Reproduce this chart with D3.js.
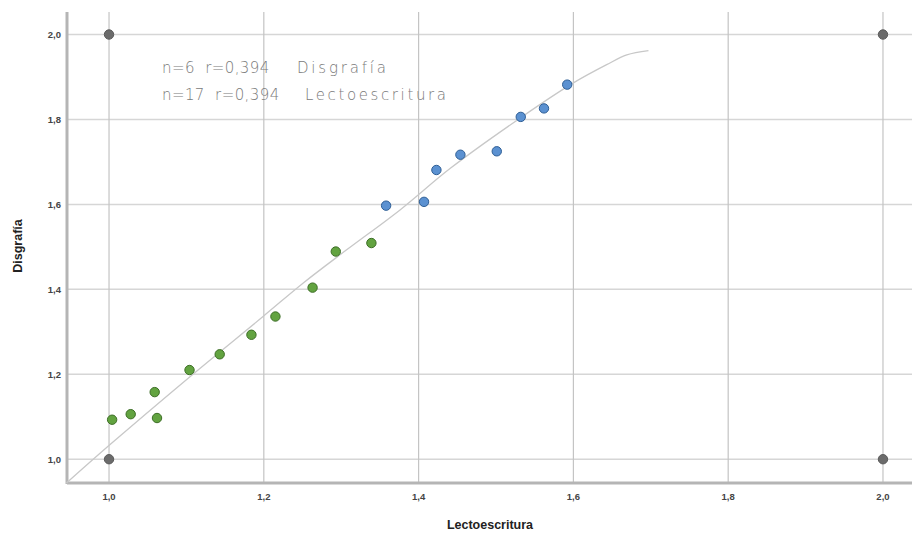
<!DOCTYPE html>
<html>
<head>
<meta charset="utf-8">
<script src="https://cdn.jsdelivr.net/npm/d3@7"></script>
<style>
  body { margin: 0; background: #fff; }
  svg { display: block; }
</style>
</head>
<body>
<div id="chart"></div>
<script>
// datos
const greenX = [1.004, 1.028, 1.059, 1.062, 1.104, 1.143, 1.184, 1.215, 1.263, 1.293, 1.339];
const greenY = [1.093, 1.106, 1.158, 1.097, 1.210, 1.247, 1.293, 1.336, 1.404, 1.489, 1.509];
const blueX = [1.358, 1.407, 1.423, 1.454, 1.501, 1.532, 1.562, 1.592];
const blueY = [1.597, 1.606, 1.681, 1.717, 1.725, 1.806, 1.826, 1.882];
const refX = [1.0, 1.0, 2.0, 2.0];
const refY = [1.0, 2.0, 1.0, 2.0];
// curva de ajuste
const fitX = [0.945, 1.001, 1.105, 1.199, 1.251, 1.307, 1.376, 1.441, 1.531, 1.600, 1.643, 1.669, 1.697];
const fitY = [0.944, 1.034, 1.195, 1.336, 1.415, 1.493, 1.587, 1.685, 1.803, 1.886, 1.929, 1.952, 1.962];
const ticks = [1.0, 1.2, 1.4, 1.6, 1.8, 2.0];
const noteStats = ["n=6  r=0,394", "n=17  r=0,394"];
const noteLabels = ["Disgrafía", "Lectoescritura"];

const W = 912, H = 536;
const plot = { left: 67, right: 912, top: 12, bottom: 483 };

const svg = d3.select("#chart").append("svg")
  .attr("width", W).attr("height", H);

const x = d3.scaleLinear().domain([0.9457, 2.0375]).range([plot.left, plot.right]);
const y = d3.scaleLinear().domain([0.944, 2.053]).range([plot.bottom, plot.top]);
const fmt = v => d3.format(".1f")(v).replace(".", ",");

// rejilla horizontal
svg.append("g").selectAll("line").data(ticks).enter().append("line")
  .attr("x1", plot.left).attr("x2", plot.right)
  .attr("y1", d => y(d)).attr("y2", d => y(d))
  .attr("stroke", "#d6d6d6").attr("stroke-width", 1.5);

// rejilla vertical
svg.append("g").selectAll("line").data(ticks).enter().append("line")
  .attr("x1", d => x(d)).attr("x2", d => x(d))
  .attr("y1", plot.top).attr("y2", plot.bottom)
  .attr("stroke", "#c4c4c4").attr("stroke-width", 1.2);

// ejes
svg.append("line")
  .attr("x1", plot.left).attr("x2", plot.left)
  .attr("y1", plot.top).attr("y2", plot.bottom + 1)
  .attr("stroke", "#b5b5b5").attr("stroke-width", 3);
svg.append("line")
  .attr("x1", plot.left).attr("x2", plot.right)
  .attr("y1", plot.bottom).attr("y2", plot.bottom)
  .attr("stroke", "#b5b5b5").attr("stroke-width", 3);

// etiquetas de marcas
svg.append("g").selectAll("text").data(ticks).enter().append("text")
  .attr("x", d => x(d)).attr("y", plot.bottom + 17)
  .attr("text-anchor", "middle")
  .style("font", "bold 9.5px 'Liberation Sans', Arial, sans-serif")
  .style("fill", "#444")
  .text(fmt);
svg.append("g").selectAll("text").data(ticks).enter().append("text")
  .attr("x", plot.left - 6).attr("y", d => y(d)).attr("dy", "0.35em")
  .attr("text-anchor", "end")
  .style("font", "bold 9.5px 'Liberation Sans', Arial, sans-serif")
  .style("fill", "#444")
  .text(fmt);

// títulos de ejes
svg.append("text")
  .attr("x", 490).attr("y", 529)
  .attr("text-anchor", "middle")
  .style("font", "bold 12.5px 'Liberation Sans', Arial, sans-serif")
  .style("fill", "#222")
  .text("Lectoescritura");
svg.append("text")
  .attr("transform", "translate(22,246) rotate(-90)")
  .attr("text-anchor", "middle")
  .style("font", "bold 12.5px 'Liberation Sans', Arial, sans-serif")
  .style("fill", "#222")
  .text("Disgrafía");

// curva
const line = d3.line()
  .x(d => x(d[0])).y(d => y(d[1]))
  .curve(d3.curveCatmullRom);
svg.append("path")
  .datum(fitX.map((v, i) => [v, fitY[i]]))
  .attr("d", line)
  .attr("fill", "none")
  .attr("stroke", "#c8c8c8")
  .attr("stroke-width", 1.3);

// puntos
function dots(xs, ys, fill, stroke) {
  svg.append("g").selectAll("circle")
    .data(xs.map((v, i) => [v, ys[i]]))
    .enter().append("circle")
    .attr("cx", d => x(d[0])).attr("cy", d => y(d[1]))
    .attr("r", 4.7)
    .attr("fill", fill)
    .attr("stroke", stroke)
    .attr("stroke-width", 1);
}
dots(refX, refY, "#6b6b6b", "#5a5a5a");
dots(greenX, greenY, "#62a340", "#3d6e26");
dots(blueX, blueY, "#5b91d1", "#2f5f96");

// anotaciones
const labelStart = [297, 305];
const labelWidth = [89, 141];
const notes = svg.append("g").selectAll("text").data(noteStats).enter().append("text")
  .attr("x", 162).attr("y", (d, i) => 73 + i * 27)
  .attr("xml:space", "preserve")
  .style("font", "15px 'DejaVu Sans', 'Noto Sans', sans-serif")
  .style("font-weight", 300)
  .style("fill", "#7a7a7a");
notes.append("tspan")
  .style("letter-spacing", "0.4px")
  .text(d => d);
notes.append("tspan")
  .attr("x", (d, i) => labelStart[i])
  .attr("textLength", (d, i) => labelWidth[i])
  .attr("lengthAdjust", "spacing")
  .text((d, i) => noteLabels[i]);
</script>
</body>
</html>
